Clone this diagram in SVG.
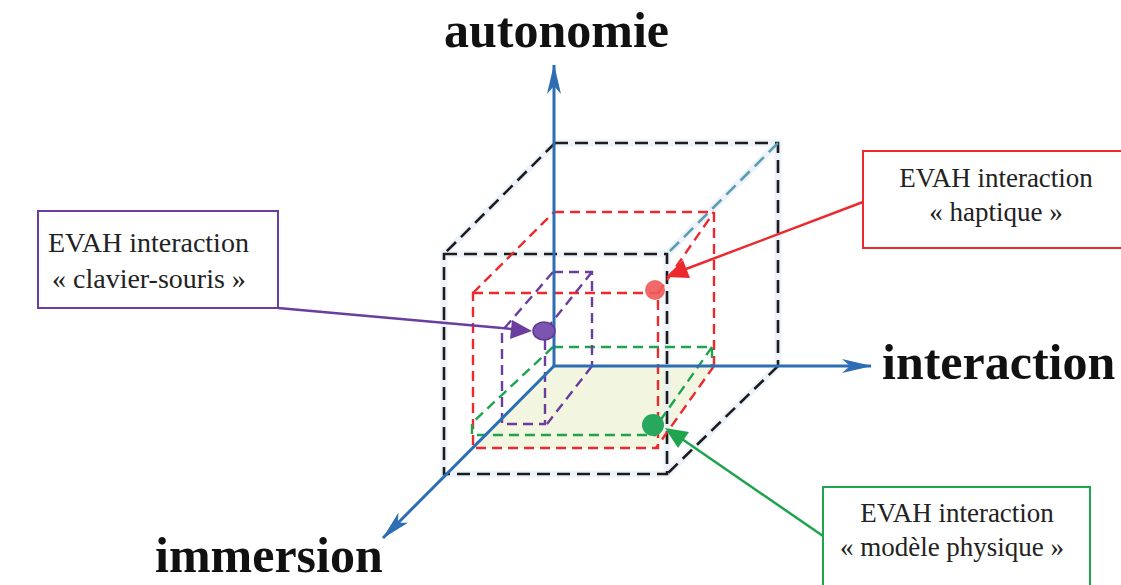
<svg xmlns="http://www.w3.org/2000/svg" width="1121" height="585" viewBox="0 0 1121 585">
<defs>
<style>
.halo{fill:none;stroke:#e6eef6;stroke-width:7}
.blk{fill:none;stroke:#1c1c1c;stroke-width:2.6;stroke-dasharray:13 7}
.teal{fill:none;stroke:#5c9db3;stroke-width:2.6;stroke-dasharray:13 7}
.red{fill:none;stroke:#ec2a2e;stroke-width:2.4;stroke-dasharray:10 6}
.pur{fill:none;stroke:#6a3d9e;stroke-width:2.4;stroke-dasharray:10 6}
.grn{fill:none;stroke:#1ea34e;stroke-width:2.4;stroke-dasharray:10 6}
.axis{fill:none;stroke:#2d6db4;stroke-width:3}
.lbl{font-family:"Liberation Serif","Times New Roman",serif;font-weight:bold;font-size:50px;fill:#111}
.bt{font-family:"Liberation Serif","Times New Roman",serif;font-size:27px;fill:#222}
</style>
<marker id="ax" markerWidth="30" markerHeight="14" refX="29" refY="7" orient="auto" markerUnits="userSpaceOnUse" viewBox="0 0 30 14">
<path d="M0,0 L30,7 L0,14 L8,7 Z" fill="#2d6db4"/>
</marker>
</defs>
<rect width="1121" height="585" fill="#ffffff"/>
<g id="floor">
<polygon points="555,366 714,366 656,448 472,448" fill="#f2f5e0"/>
</g>
<g id="cube-black">
<path class="halo" d="M444,254 H667 V474 H444 Z M555,143 H778 V366 M555,143 L444,254 M778,143 L667,254 M778,366 L667,474" opacity="0.7"/>
<path class="blk" d="M444,254 H667 V474 H444 Z"/>
<path class="blk" d="M555,143 H778 V366"/>
<path class="blk" d="M555,143 L444,254"/>
<path class="teal" d="M778,143 L667,254"/>
<path class="blk" d="M778,366 L667,474"/>
</g>
<g id="cube-red">
<path class="red" d="M473,293 H658 V448 H473 Z"/>
<path class="red" d="M554,212 H714 V366"/>
<path class="red" d="M473,293 L554,212"/>
<path class="red" d="M658,293 L714,212"/>
<path class="red" d="M714,366 L656,448"/>
</g>
<g id="cube-green">
<path class="grn" d="M553,347 H712 V366"/>
<path class="grn" d="M553,347 L472,423 V435 H655 V425"/>
<path class="grn" d="M712,347 L657,425"/>
</g>
<g id="cube-purple">
<path class="pur" d="M553,272 H592 V366"/>
<path class="pur" d="M553,272 L502,331 V424 H545 V331"/>
<path class="pur" d="M592,272 L545,331"/>
<path class="pur" d="M592,366 L547,424"/>
</g>
<g id="axes">
<line class="axis" x1="554" y1="366" x2="554" y2="65" marker-end="url(#ax)"/>
<line class="axis" x1="554" y1="366" x2="871" y2="366" marker-end="url(#ax)"/>
<line class="axis" x1="554" y1="366" x2="383" y2="538" marker-end="url(#ax)"/>
</g>
<g id="axis-labels">
<text class="lbl" x="444" y="47">autonomie</text>
<text class="lbl" x="882" y="379">interaction</text>
<text class="lbl" x="155" y="572">immersion</text>
</g>
<g id="points">
<ellipse cx="544" cy="331" rx="11" ry="9" fill="#7b55b0" stroke="#5d3a93" stroke-width="1.5"/>
<circle cx="655" cy="290" r="10" fill="#f05a5a" opacity="0.9"/>
<circle cx="653" cy="425" r="11" fill="#27a85c"/>
</g>
<g id="connectors">
<line x1="278" y1="308" x2="512" y2="329" stroke="#6a3d9e" stroke-width="2.5"/>
<polygon points="532,331 510,339 512,320" fill="#6a3d9e"/>
<line x1="863" y1="202" x2="686" y2="269" stroke="#ec2a2e" stroke-width="2.5"/>
<polygon points="666,277 683,260 690,278" fill="#ec2a2e"/>
<line x1="823" y1="536" x2="682" y2="439" stroke="#1ea34e" stroke-width="2.5"/>
<polygon points="665,428 689,432 678,448" fill="#1ea34e"/>
</g>
<g id="box-clavier">
<rect x="38" y="211" width="240" height="97" fill="none" stroke="#6a3d9e" stroke-width="2"/>
<text class="bt" x="48" y="252" style="font-size:28px">EVAH interaction</text>
<text class="bt" x="52" y="288" style="font-size:28px">« clavier-souris »</text>
</g>
<g id="box-haptique">
<rect x="863" y="151" width="262" height="97" fill="none" stroke="#ec2a2e" stroke-width="2"/>
<text class="bt" x="996" y="187" text-anchor="middle">EVAH interaction</text>
<text class="bt" x="996" y="221" text-anchor="middle">« haptique »</text>
</g>
<g id="box-physique">
<rect x="823" y="487" width="267" height="102" fill="none" stroke="#1ea34e" stroke-width="2"/>
<text class="bt" x="957" y="522" text-anchor="middle">EVAH interaction</text>
<text class="bt" x="952" y="556" text-anchor="middle">« modèle physique »</text>
</g>
</svg>
